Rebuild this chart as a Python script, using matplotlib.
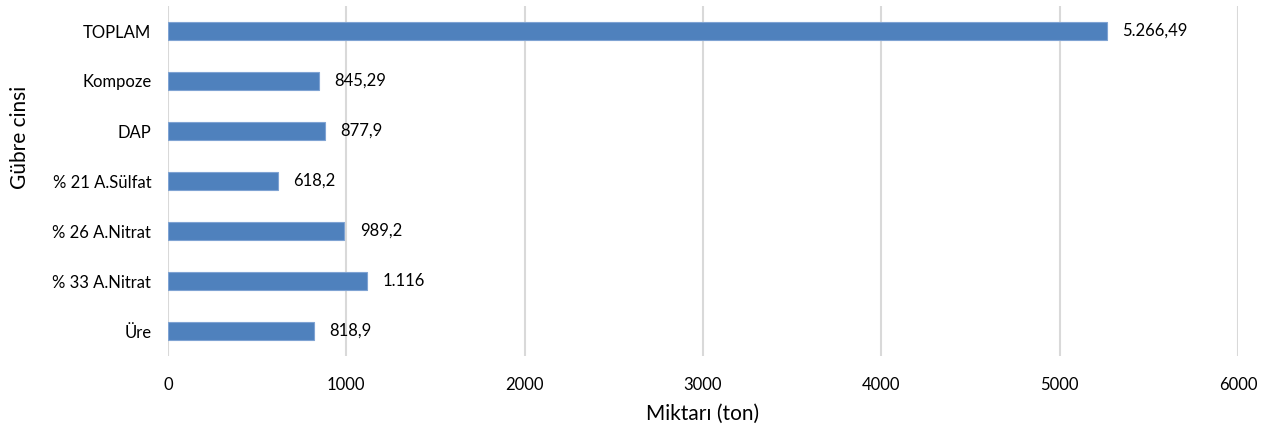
import matplotlib.pyplot as plt

categories = ["Üre", "% 33 A.Nitrat", "% 26 A.Nitrat", "% 21 A.Sülfat", "DAP", "Kompoze", "TOPLAM"]
values = [818.9, 1116, 989.2, 618.2, 877.9, 845.29, 5266.49]
value_labels = ["818,9", "1.116", "989,2", "618,2", "877,9", "845,29", "5.266,49"]
xticks = [0, 1000, 2000, 3000, 4000, 5000, 6000]

plt.rcParams['font.family'] = ['Lato', 'DejaVu Sans']

fig = plt.figure(figsize=(12.65, 4.29), dpi=100)
ax = fig.add_axes([168 / 1265, 1 - 356 / 429, (1238 - 168) / 1265, 350 / 429])

pos = range(len(categories))
ax.barh(pos, values, height=0.35, color="#4F81BD", edgecolor="#7FA3D3", linewidth=0.8, zorder=3)

for p, v, lab in zip(pos, values, value_labels):
    ax.annotate(lab, (v, p), xytext=(11, 0), textcoords="offset points",
                va="center", ha="left", fontsize=12, color="black")

ax.set_xlim(0, 6000)
ax.set_ylim(-0.5, len(categories) - 0.5)
ax.set_xticks(xticks)
ax.set_xticklabels([str(t) for t in xticks], fontsize=12)
ax.set_yticks(list(pos))
ax.set_yticklabels(categories, fontsize=12)
ax.tick_params(length=0)
ax.tick_params(axis="x", pad=15)
ax.tick_params(axis="y", pad=12)

ax.grid(axis="x", color="#D9D9D9", linewidth=1.5, zorder=0)
for s in ["top", "right", "bottom", "left"]:
    ax.spines[s].set_visible(False)

ax.set_xlabel("Miktarı (ton)", fontsize=15, labelpad=8)
# y title sits a bit above the axis centre, as in the original
fig.text(20 / 1265, 1 - 137 / 429, "Gübre cinsi", fontsize=15, rotation=90,
         ha="center", va="center")

fig.savefig("out.png", dpi=100)
